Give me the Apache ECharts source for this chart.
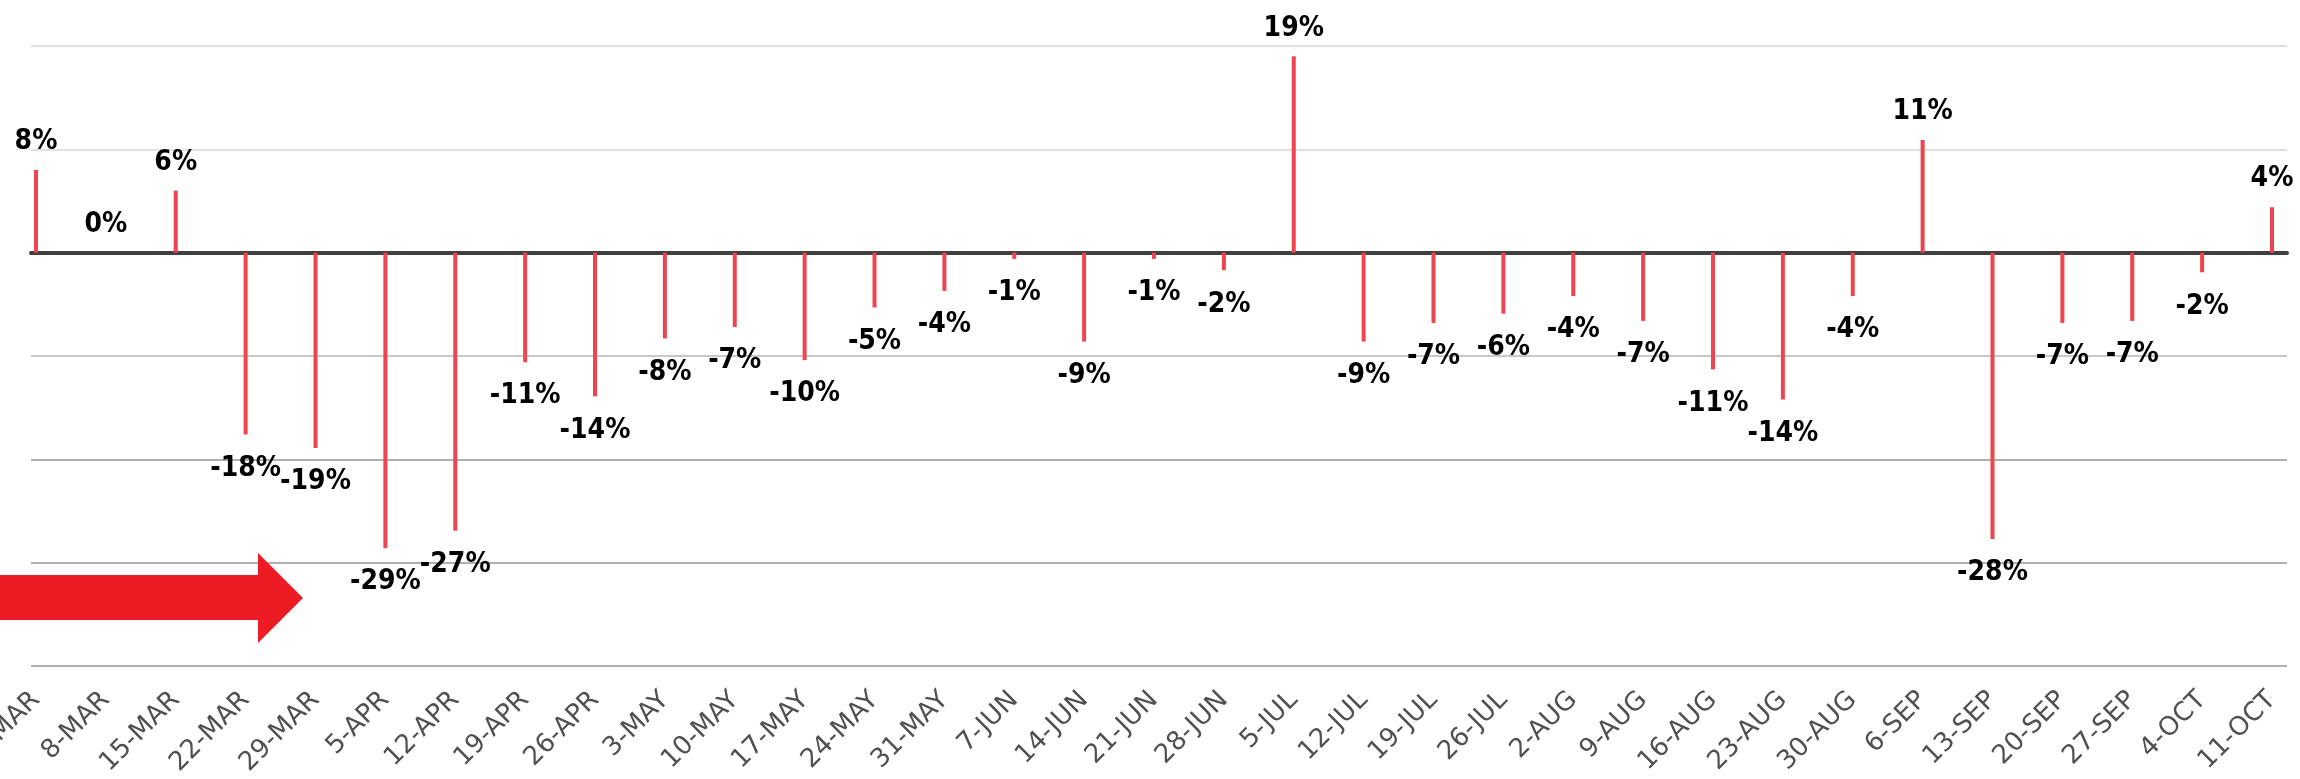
<!DOCTYPE html>
<html>
<head>
<meta charset="utf-8">
<script src="https://cdn.jsdelivr.net/npm/echarts@6/dist/echarts.min.js"></script>
<style>
  html, body { margin: 0; padding: 0; background: #fff; }
  #chart { width: 2300px; height: 779px; }
</style>
</head>
<body>
<div id="chart"></div>
<script>
// weekly change
const weeks = [
  "1-MAR", "8-MAR", "15-MAR", "22-MAR", "29-MAR", "5-APR", "12-APR", "19-APR", "26-APR",
  "3-MAY", "10-MAY", "17-MAY", "24-MAY", "31-MAY", "7-JUN", "14-JUN", "21-JUN", "28-JUN",
  "5-JUL", "12-JUL", "19-JUL", "26-JUL", "2-AUG", "9-AUG", "16-AUG", "23-AUG", "30-AUG",
  "6-SEP", "13-SEP", "20-SEP", "27-SEP", "4-OCT", "11-OCT"
]
const change = [
  8.0, 0, 6.0, -17.6, -18.9, -28.6, -26.9, -10.6, -13.9,
  -8.3, -7.2, -10.4, -5.3, -3.7, -0.6, -8.6, -0.6, -1.7,
  19.0, -8.6, -6.8, -5.9, -4.2, -6.6, -11.3, -14.2, -4.2,
  10.9, -27.7, -6.8, -6.6, -1.9, 4.4
]
const yMin = -40
const yMax = 20
const yStep = 10

const chart = echarts.init(document.getElementById("chart"))

const labelFont = {
    fontFamily: '"DejaVu Sans Condensed", "DejaVu Sans", sans-serif',
    fontWeight: "bold",
    fontSize: 28,
    lineHeight: 28,
    color: "#000"
}

const barData = change.map(v => ({
    value: v,
    label: Object.assign({
        show: true,
        position: v >= 0 ? "top" : "bottom",
        distance: v >= 0 ? 14 : 20,
        formatter: Math.round(v) + "%"
    }, labelFont)
}))

chart.setOption({
    animation: false,
    backgroundColor: "#fff",
    grid: [
        { left: 31, right: 13, top: 46, bottom: 113, containLabel: false, outerBoundsMode: "none" },
        { left: 36, right: 28, top: 46, bottom: 113, containLabel: false, outerBoundsMode: "none" }
    ],
    xAxis: [
        {
            // only carries the dark zero line across the full width
            gridIndex: 0,
            type: "value",
            min: 0,
            max: 1,
            axisLine: { show: true, onZero: true, lineStyle: { color: "#404040", width: 4 } },
            axisTick: { show: false },
            axisLabel: { show: false },
            splitLine: { show: false }
        },
        {
            gridIndex: 1,
            type: "category",
            data: weeks,
            boundaryGap: false,
            axisLine: { show: false, onZero: false },
            axisTick: { show: false },
            axisLabel: {
                rotate: 45,
                margin: 30,
                fontSize: 26,
                color: "#505050",
                fontFamily: '"DejaVu Sans", sans-serif',
                interval: 0
            },
            splitLine: { show: false }
        }
    ],
    yAxis: [
        {
            gridIndex: 0,
            type: "value",
            min: yMin,
            max: yMax,
            interval: yStep,
            axisLine: { show: false },
            axisTick: { show: false },
            axisLabel: { show: false },
            splitLine: {
                show: true,
                lineStyle: {
                    width: 2,
                    color: ["#b0b0b0", "#b0b0b0", "#b0b0b0", "#c8c8c8", "#404040", "#e0e0e0", "#e0e0e0"]
                }
            }
        },
        {
            gridIndex: 1,
            type: "value",
            min: yMin,
            max: yMax,
            interval: yStep,
            axisLine: { show: false },
            axisTick: { show: false },
            axisLabel: { show: false },
            splitLine: { show: false }
        }
    ],
    graphic: [
        {
            type: "polygon",
            z: 100,
            shape: {
                points: [[0, 575], [258, 575], [258, 553], [303, 598], [258, 643], [258, 620], [0, 620]]
            },
            style: { fill: "#ed1c24" }
        }
    ],
    series: [
        {
            type: "bar",
            xAxisIndex: 1,
            yAxisIndex: 1,
            data: barData,
            barWidth: 4,
            itemStyle: { color: "#ee4450" },
            z: 3
        }
    ]
})
</script>
</body>
</html>
